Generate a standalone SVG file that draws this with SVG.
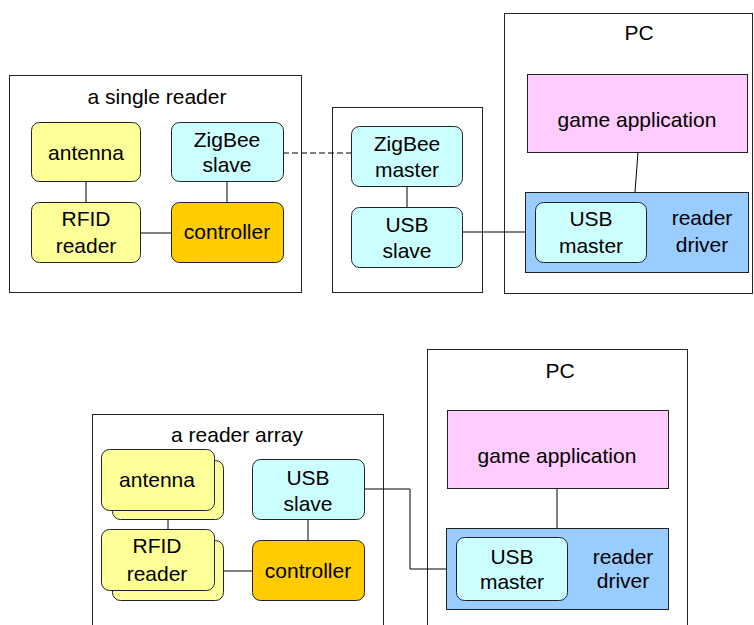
<svg xmlns="http://www.w3.org/2000/svg" width="754" height="625" viewBox="0 0 754 625">
<style>
text{font-family:"Liberation Sans",Arial,sans-serif;font-size:21px;fill:#000;text-anchor:middle}
.frame{fill:#fff;stroke:#222;stroke-width:1}
.n{stroke:#222;stroke-width:1}
.y{fill:#FFFF99}.c{fill:#CCFFFF}.o{fill:#FFCC00}.p{fill:#FFCCFF}.b{fill:#99CCFF}
.w{fill:none;stroke:#000;stroke-width:1}
</style>
<rect width="754" height="625" fill="#fff"/>
<g id="single-reader">
<rect class="frame" x="9.5" y="75.5" width="292" height="217"/>
<text x="157" y="104">a single reader</text>
</g>
<g id="hub">
<rect class="frame" x="332.5" y="107.5" width="150" height="185"/>
</g>
<g id="pc1">
<rect class="frame" x="504.5" y="13.5" width="248" height="280"/>
<text x="639" y="40">PC</text>
</g>
<g id="reader-array">
<rect class="frame" x="92.5" y="414.5" width="291" height="230"/>
<text x="237" y="442">a reader array</text>
</g>
<g id="pc2">
<rect class="frame" x="427.5" y="349.5" width="260" height="290"/>
<text x="560" y="378">PC</text>
</g>
<g id="connectors">
<line class="w" x1="86" y1="181" x2="86" y2="202"/>
<line class="w" x1="227" y1="181" x2="227" y2="202"/>
<line class="w" x1="140" y1="233" x2="171" y2="233"/>
<line class="w" x1="283" y1="153" x2="351" y2="153" stroke-dasharray="6,3" stroke-width="2"/>
<line class="w" x1="407" y1="186" x2="407" y2="207"/>
<line class="w" x1="462" y1="232" x2="535" y2="232"/>
<line class="w" x1="638" y1="152" x2="635" y2="192"/>
<line class="w" x1="168" y1="519" x2="168" y2="529"/>
<line class="w" x1="308" y1="519" x2="308" y2="540"/>
<line class="w" x1="223" y1="571" x2="252" y2="571"/>
<polyline class="w" points="364,489 410,489 410,569 456,569"/>
<line class="w" x1="557" y1="488" x2="557" y2="528"/>
</g>
<g id="antenna1"><rect class="n y" x="31.5" y="122.5" width="109" height="59" rx="8"/><text x="86" y="160">antenna</text></g>
<g id="rfid1"><rect class="n y" x="31.5" y="202.5" width="109" height="60" rx="8"/><text x="86" y="226">RFID</text><text x="86" y="253">reader</text></g>
<g id="zigbee-slave"><rect class="n c" x="171.5" y="122.5" width="112" height="59" rx="8"/><text x="227" y="147">ZigBee</text><text x="227" y="172">slave</text></g>
<g id="controller1"><rect class="n o" x="171.5" y="202.5" width="112" height="60" rx="8"/><text x="227" y="239">controller</text></g>
<g id="zigbee-master"><rect class="n c" x="351.5" y="126.5" width="111" height="60" rx="8"/><text x="407" y="151">ZigBee</text><text x="407" y="177">master</text></g>
<g id="usb-slave1"><rect class="n c" x="351.5" y="207.5" width="111" height="60" rx="8"/><text x="407" y="232">USB</text><text x="407" y="258">slave</text></g>
<g id="game-app1"><rect class="n p" x="527.5" y="74.5" width="220" height="78"/><text x="637" y="127">game application</text></g>
<g id="reader-driver1"><rect class="n b" x="525.5" y="192.5" width="223" height="80"/><text x="702" y="225">reader</text><text x="702" y="252">driver</text></g>
<g id="usb-master1"><rect class="n c" x="535.5" y="202.5" width="111" height="60" rx="8"/><text x="591" y="226">USB</text><text x="591" y="253">master</text></g>
<g id="antenna2"><rect class="n y" x="112.5" y="460.5" width="111" height="59" rx="8"/><rect class="n y" x="101.5" y="449.5" width="113" height="61" rx="8"/><text x="157" y="487">antenna</text></g>
<g id="rfid2"><rect class="n y" x="112.5" y="540.5" width="111" height="60" rx="8"/><rect class="n y" x="101.5" y="529.5" width="113" height="61" rx="8"/><text x="157" y="553">RFID</text><text x="157" y="581">reader</text></g>
<g id="usb-slave2"><rect class="n c" x="252.5" y="459.5" width="112" height="60" rx="8"/><text x="308" y="485">USB</text><text x="308" y="511">slave</text></g>
<g id="controller2"><rect class="n o" x="252.5" y="540.5" width="112" height="60" rx="8"/><text x="308" y="578">controller</text></g>
<g id="game-app2"><rect class="n p" x="447.5" y="410.5" width="221" height="78"/><text x="557" y="463">game application</text></g>
<g id="reader-driver2"><rect class="n b" x="446.5" y="528.5" width="222" height="81"/><text x="623" y="564">reader</text><text x="623" y="588">driver</text></g>
<g id="usb-master2"><rect class="n c" x="456.5" y="537.5" width="111" height="63" rx="8"/><text x="512" y="564">USB</text><text x="512" y="589">master</text></g>
</svg>
